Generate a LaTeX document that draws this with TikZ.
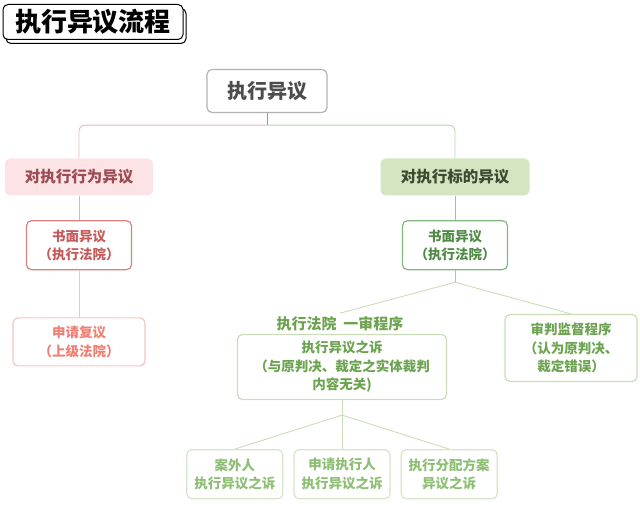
\documentclass[tikz,border=0pt]{standalone}
\usepackage{fontspec}
\setmainfont{Noto Sans CJK SC}
\usetikzlibrary{positioning,shadows}

\definecolor{pinkfill}{HTML}{FCE4E6}
\definecolor{pinktext}{HTML}{9E4A52}
\definecolor{redline}{HTML}{D98080}
\definecolor{redtext}{HTML}{C45A5A}
\definecolor{salmonline}{HTML}{F2C4C4}
\definecolor{salmontext}{HTML}{EE7F73}
\definecolor{greenfill}{HTML}{D3E6C1}
\definecolor{greendark}{HTML}{3C4A33}
\definecolor{greenline}{HTML}{82B77E}
\definecolor{greentext}{HTML}{4F8A44}
\definecolor{paleline}{HTML}{CADDB8}
\definecolor{paletext}{HTML}{6BA34F}
\definecolor{leafline}{HTML}{D6E4CA}
\definecolor{leaftext}{HTML}{8CBF74}

\begin{document}
\begin{tikzpicture}[
    x=1pt, y=-1pt,
    box/.style={
        rectangle,
        rounded corners=5pt,
        line width=1.2pt,
        align=center,
        inner sep=2pt,
        font=\bfseries\fontsize{13.5pt}{18.5pt}\selectfont
    },
    titlebox/.style={
        box,
        draw=black,
        fill=white,
        line width=1pt,
        minimum width=180pt,
        minimum height=35pt,
        font=\bfseries\fontsize{26pt}{30pt}\selectfont,
        copy shadow={shadow xshift=3pt, shadow yshift=-4pt}
    },
    leaf/.style={
        box,
        draw=leafline,
        text=leaftext,
        minimum width=96pt,
        minimum height=49pt
    },
    link/.style={
        draw,
        line width=0.9pt,
        color=black!20
    }
]
    \useasboundingbox (0,0) rectangle (640,510);

    % Title
    \node [titlebox] (title) at (93,22) {执行异议流程};

    % Root and two kinds of objection
    \node [box, draw=black!30, text=black!70, minimum width=120pt, minimum height=43pt,
           font=\bfseries\fontsize{20pt}{24pt}\selectfont] (root) at (267,91) {执行异议};
    \node [box, fill=pinkfill, text=pinktext, minimum width=148pt, minimum height=37pt,
           font=\bfseries\fontsize{15.5pt}{18pt}\selectfont] (act) at (79,177) {对执行行为异议};
    \node [box, fill=greenfill, text=greendark, minimum width=149pt, minimum height=37pt,
           font=\bfseries\fontsize{15.5pt}{18pt}\selectfont] (obj) at (455,177) {对执行标的异议};

    % Left branch
    \node [box, draw=redline, text=redtext, minimum width=105pt, minimum height=49pt,
           below=24pt of act] (writl) {书面异议\\（执行法院）};
    \node [box, draw=salmonline, text=salmontext, minimum width=132pt, minimum height=48pt,
           below=47pt of writl] (review) {申请复议\\（上级法院）};

    % Right branch
    \node [box, draw=greenline, text=greentext, minimum width=105pt, minimum height=49pt,
           below=24pt of obj] (writr) {书面异议\\（执行法院）};
    \node [text=paletext, font=\bfseries\fontsize{15pt}{18pt}\selectfont] (trial) at (340,324) {执行法院\ \ 一审程序};
    \node [box, draw=paleline, text=paletext, minimum width=209pt, minimum height=65pt]
           (suit) at (342,367) {执行异议之诉\\（与原判决、裁定之实体裁判\\内容无关)};
    \node [box, draw=paleline, text=paletext, minimum width=132pt, minimum height=67pt]
           (retrial) at (571,348) {审判监督程序\\（认为原判决、\\裁定错误）};

    % Three kinds of suit
    \node [leaf, below=49pt of suit] (party) {申请执行人\\执行异议之诉};
    \node [leaf, left=10pt of party] (outsider) {案外人\\执行异议之诉};
    \node [leaf, right=10pt of party] (plan) {执行分配方案\\异议之诉};

    % Connectors
    \coordinate [below=12pt of root.south] (jroot);
    \coordinate [below=12pt of writr.south] (jwrit);
    \coordinate [below=15pt of suit.south] (jsuit);

    \path [link, color=black!40] (root) -- (jroot);
    \path [link, color=redline!55, rounded corners=6pt] (jroot) -| (act);
    \path [link, color=greenline!60, rounded corners=6pt] (jroot) -| (obj);
    \path [link, color=redline!60] (act) -- (writl);
    \path [link, color=salmonline] (writl) -- (review);
    \path [link, color=black!30] (obj) -- (writr);
    \path [link, color=greenline!70] (writr) -- (jwrit);
    \path [link, color=paleline] (jwrit) -- (trial.north);
    \path [link, color=paleline] (jwrit) -- (retrial.north);
    \path [link, color=paleline] (suit) -- (jsuit);
    \foreach \leaf in {outsider,party,plan}
        \path [link, color=paleline] (jsuit) -- (\leaf.north);
\end{tikzpicture}
\end{document}
